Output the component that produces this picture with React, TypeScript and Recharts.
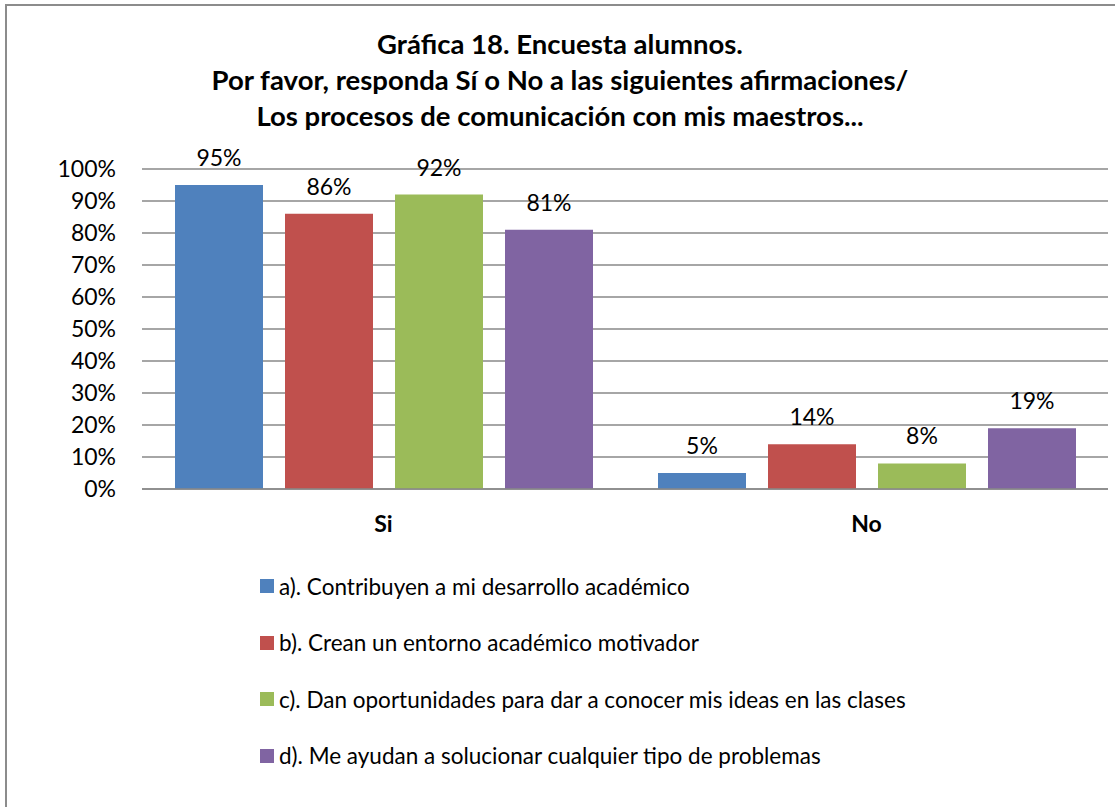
import { Bar, BarChart, CartesianGrid, LabelList, Legend, XAxis, YAxis } from "recharts"

const categories = ["Si", "No"]
const seriesA = [95, 5]
const seriesB = [86, 14]
const seriesC = [92, 8]
const seriesD = [81, 19]
const seriesNames = [
  "a). Contribuyen a mi desarrollo académico",
  "b). Crean un entorno académico motivador",
  "c). Dan oportunidades para dar a conocer mis ideas en las clases",
  "d). Me ayudan a solucionar cualquier tipo de problemas",
]
const yTicks = [0, 10, 20, 30, 40, 50, 60, 70, 80, 90, 100]
const titleLines = [
  "Gráfica 18. Encuesta alumnos.",
  "Por favor, responda Sí o No a las siguientes afirmaciones/",
  "Los procesos de comunicación con mis maestros...",
]

const colors = ["#4F81BD", "#C0504D", "#9BBB59", "#8064A2"]
const FONT = "Lato, 'Open Sans', sans-serif"

const data = categories.map((c, i) => ({
  name: c,
  a: seriesA[i],
  b: seriesB[i],
  c: seriesC[i],
  d: seriesD[i],
}))

const pct = (v: number) => `${v}%`

function LegendList(props: any) {
  const items = props.payload || []
  return (
    <div style={{ fontFamily: FONT, fontSize: 22.5, color: "#000" }}>
      {items.map((it: any) => (
        <div key={it.value} style={{ display: "flex", alignItems: "center", height: 56.5 }}>
          <span style={{ width: 14, height: 14, background: it.color, display: "inline-block", marginRight: 5 }} />
          <span>{it.value}</span>
        </div>
      ))}
    </div>
  )
}

export default function App() {
  const keys = ["a", "b", "c", "d"]
  return (
    <div style={{ position: "absolute", left: 0, top: 0, width: 1115, height: 807, overflow: "hidden", background: "#fff" }}>
      <div
        style={{
          position: "absolute",
          left: 5,
          top: 4,
          width: 1130,
          height: 830,
          border: "2px solid #8c8c8c",
          boxSizing: "border-box",
        }}
      />
      <div
        style={{
          position: "absolute",
          left: 2,
          top: 26,
          width: 1116,
          textAlign: "center",
          fontFamily: FONT,
          fontWeight: 700,
          fontSize: 27.5,
          lineHeight: "36px",
          color: "#000",
        }}
      >
        {titleLines.map((t) => (
          <div key={t}>{t}</div>
        ))}
      </div>
      <div style={{ position: "absolute", left: 0, top: 0 }}>
        <BarChart
          width={1115}
          height={807}
          data={data}
          margin={{ top: 169, right: 7, bottom: 0, left: 42 }}
          barSize={88}
          barGap={22}
        >
          <CartesianGrid vertical={false} stroke="#898989" strokeWidth={1.5} />
          <XAxis
            dataKey="name"
            height={318}
            axisLine={{ stroke: "#898989", strokeWidth: 1.5 }}
            tickLine={false}
            tickSize={0}
            tickMargin={27}
            tick={{ fill: "#000", fontSize: 23, fontWeight: 700, fontFamily: FONT }}
          />
          <YAxis
            width={100}
            domain={[0, 100]}
            ticks={yTicks}
            interval={0}
            tickFormatter={pct}
            axisLine={false}
            tickLine={false}
            tickSize={0}
            tickMargin={26}
            tick={{ fill: "#000", fontSize: 23, fontFamily: FONT }}
          />
          <Legend
            layout="vertical"
            align="center"
            verticalAlign="middle"
            content={<LegendList />}
            wrapperStyle={{ left: 260, top: 558, width: 840 }}
          />
          {keys.map((k, i) => (
            <Bar key={k} dataKey={k} name={seriesNames[i]} fill={colors[i]} isAnimationActive={false}>
              <LabelList
                dataKey={k}
                position="top"
                offset={19}
                formatter={pct}
                style={{ fill: "#000", fontSize: 23, fontFamily: FONT }}
              />
            </Bar>
          ))}
        </BarChart>
      </div>
    </div>
  )
}
